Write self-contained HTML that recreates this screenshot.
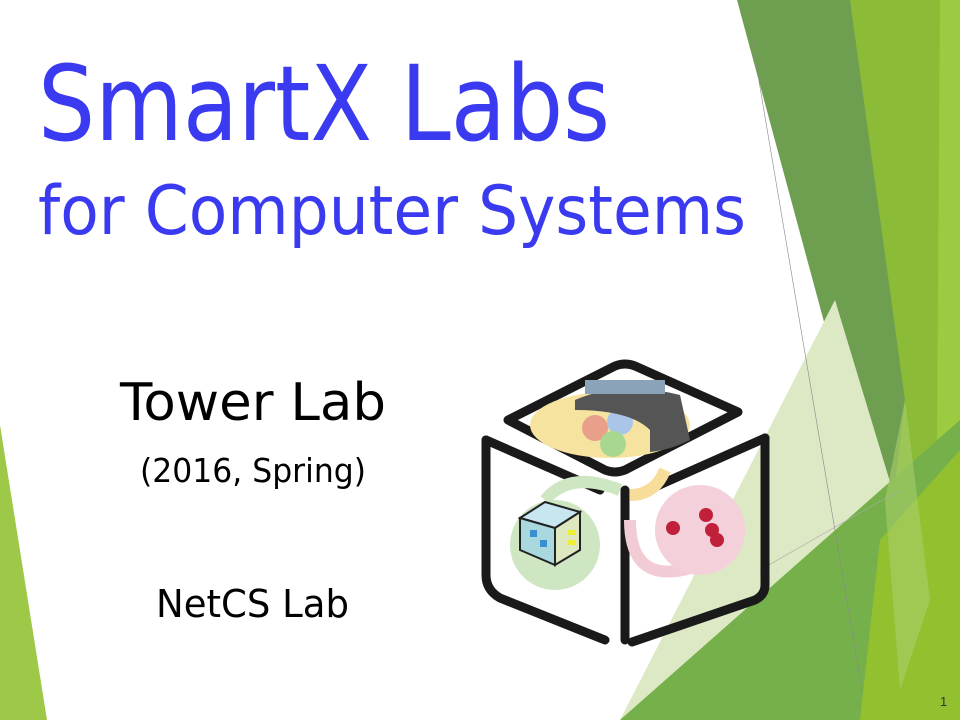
<!DOCTYPE html>
<html><head><meta charset="utf-8"><style>
html,body{margin:0;padding:0;background:#fff;}
svg{display:block;}
</style></head><body>
<svg width="960" height="720" viewBox="0 0 960 720" xmlns="http://www.w3.org/2000/svg">
<rect width="960" height="720" fill="#fff"/>
<!-- green decorations -->
<polygon points="0,425 47,720 0,720" fill="#9dc848"/>
<polygon points="845,0 960,0 960,720 850,720" fill="#8cbb38"/>
<polygon points="940,0 960,0 960,720 935,720" fill="#9ccb42"/>
<polygon points="737,0 850,0 905,400 887,555" fill="#6e9e50"/>
<polygon points="835,300 897,505 660,720 620,720" fill="#dde9c5"/>
<polygon points="620,720 960,420 960,720" fill="#75b04a"/>
<polygon points="880,540 960,450 960,720 860,720" fill="#93c02f"/>
<polygon points="885,500 905,400 930,600 900,690" fill="#a7cf6a" opacity="0.6"/>
<line x1="752" y1="40" x2="862" y2="690" stroke="#888" stroke-width="0.6"/>
<line x1="760" y1="570" x2="900" y2="490" stroke="#aaa" stroke-width="0.6"/>

<!-- title -->
<text x="38" y="140" font-family="'DejaVu Sans','Liberation Sans',sans-serif" font-size="104" fill="#3a3af0" textLength="572" lengthAdjust="spacingAndGlyphs">SmartX Labs</text>
<text x="38" y="234" font-family="'DejaVu Sans','Liberation Sans',sans-serif" font-size="68" fill="#3a3af0" textLength="708" lengthAdjust="spacingAndGlyphs">for Computer Systems</text>
<text x="120" y="420" font-family="'DejaVu Sans','Liberation Sans',sans-serif" font-size="52" fill="#000" textLength="266" lengthAdjust="spacingAndGlyphs">Tower Lab</text>
<text x="140" y="482" font-family="'DejaVu Sans','Liberation Sans',sans-serif" font-size="33" fill="#000" textLength="226" lengthAdjust="spacingAndGlyphs">(2016, Spring)</text>
<text x="156" y="617" font-family="'DejaVu Sans','Liberation Sans',sans-serif" font-size="38" fill="#000" textLength="193" lengthAdjust="spacingAndGlyphs">NetCS Lab</text>
<text x="940" y="706" font-family="'Liberation Sans',sans-serif" font-size="13" fill="#333">1</text>

<!-- cube -->
<g fill="none" stroke="#1a1a1a" stroke-width="9" stroke-linejoin="round" stroke-linecap="round">
<path d="M508,420 L615,366 Q625,362 635,366 L738,412 L625,470 Q615,474 605,470 Z"/>
<path d="M486,440 L486,575 Q486,590 500,598 L605,640"/>
<path d="M486,440 L600,490"/>
<path d="M765,438 L765,585 Q765,595 755,600 L632,642"/>
<path d="M765,438 L648,490"/>
<path d="M625,490 L625,640"/>
</g>
<!-- top content -->
<ellipse cx="610" cy="425" rx="80" ry="33" fill="#f7e3a0"/>
<circle cx="595" cy="428" r="13" fill="#e8a08a"/>
<circle cx="620" cy="422" r="13" fill="#a9c5e8"/>
<circle cx="613" cy="444" r="13" fill="#a8d890"/>
<path d="M575,400 Q620,380 680,395 L690,440 Q670,450 650,452 L650,430 Q630,410 575,410 Z" fill="#555"/>
<rect x="585" y="380" width="80" height="14" fill="#8aa3b8"/>
<!-- arrows -->
<path d="M545,500 Q570,470 620,490" stroke="#cfe6c2" stroke-width="12" fill="none"/>
<path d="M665,470 Q655,495 630,495" stroke="#f8dc9a" stroke-width="12" fill="none"/>
<path d="M630,520 Q630,590 700,565" stroke="#f2ccd5" stroke-width="12" fill="none"/>
<circle cx="555" cy="545" r="45" fill="#cfe6c2"/>
<circle cx="700" cy="530" r="45" fill="#f4d0da"/>
<!-- server cube -->
<path d="M520,518 L545,502 L580,512 L555,528 Z" fill="#c8e6f0" stroke="#222" stroke-width="2"/>
<path d="M520,518 L555,528 L555,565 L520,550 Z" fill="#a9d8df" stroke="#222" stroke-width="2"/>
<path d="M555,528 L580,512 L580,550 L555,565 Z" fill="#dde8c0" stroke="#222" stroke-width="2"/>
<rect x="568" y="530" width="8" height="5" fill="#ee3"/>
<rect x="568" y="540" width="8" height="5" fill="#ee3"/>
<rect x="530" y="530" width="7" height="7" fill="#3a8fd0"/>
<rect x="540" y="540" width="7" height="7" fill="#3a8fd0"/>
<!-- raspberries -->
<circle cx="673" cy="528" r="7" fill="#c0203a"/>
<circle cx="706" cy="515" r="7" fill="#c0203a"/>
<circle cx="712" cy="530" r="7" fill="#c0203a"/>
<circle cx="717" cy="540" r="7" fill="#c0203a"/>
</svg>
</body></html>
